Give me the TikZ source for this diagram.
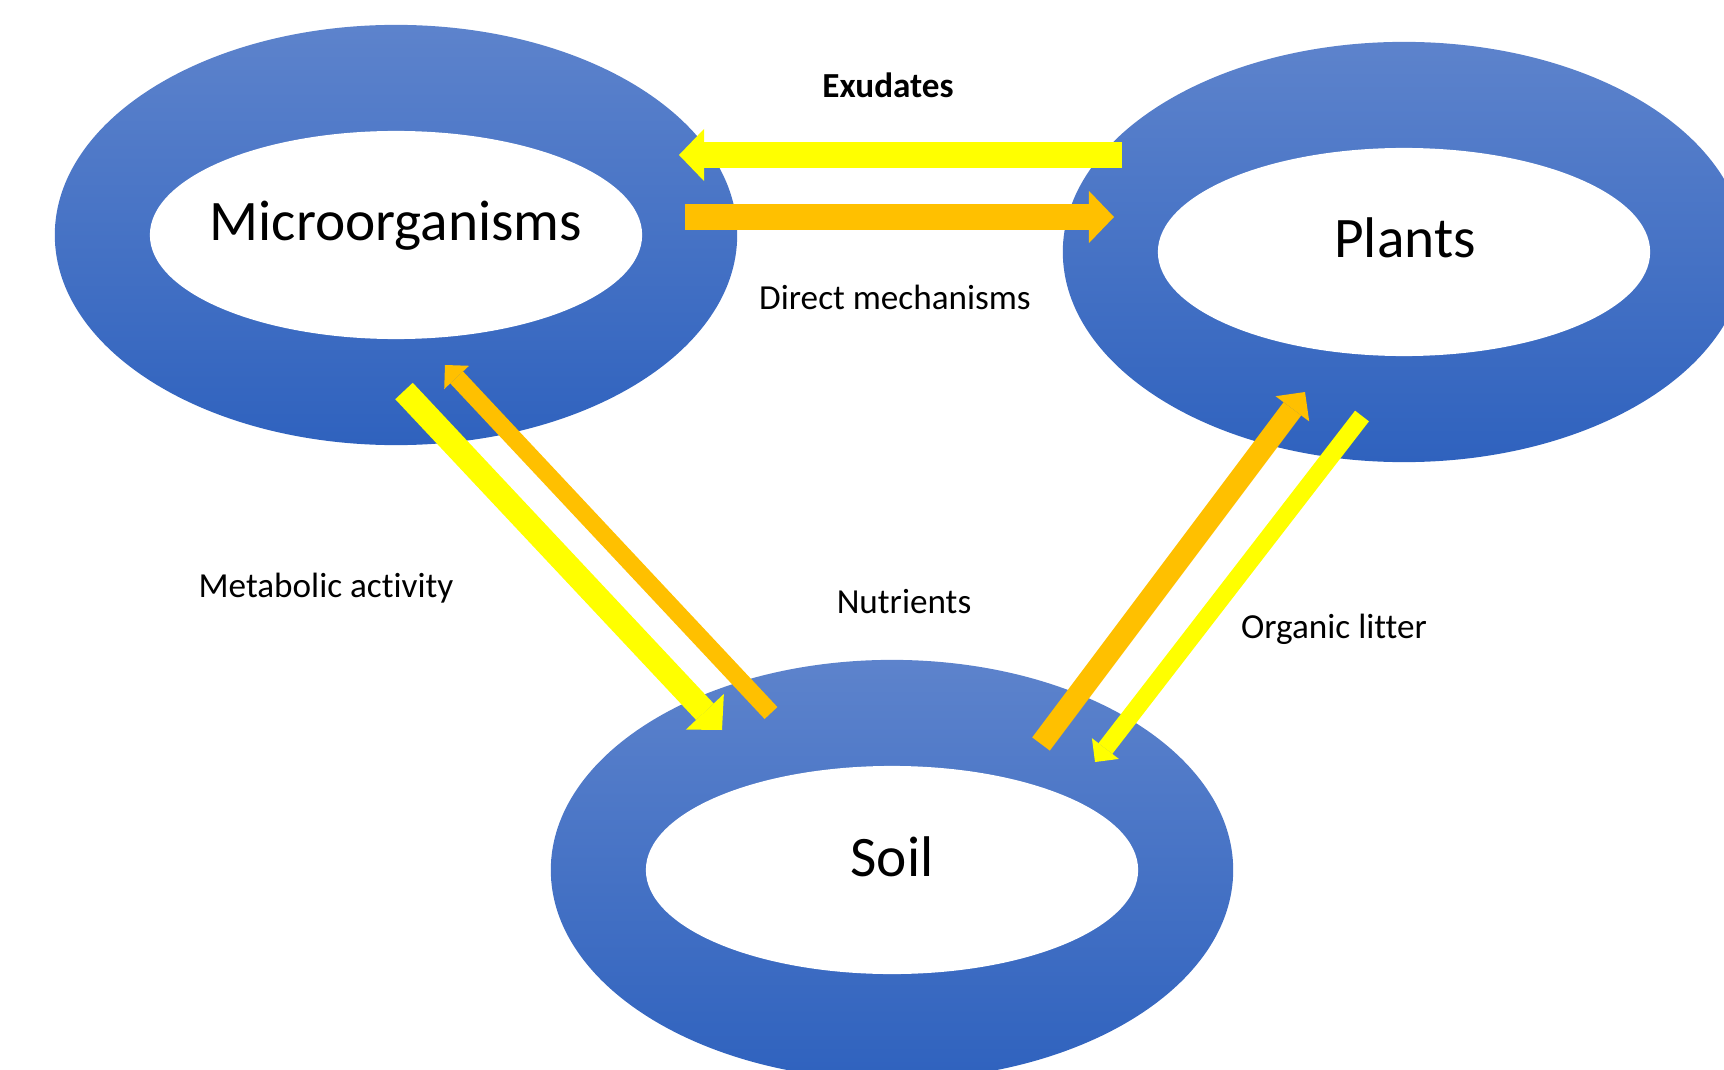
\documentclass[tikz,border=0pt]{standalone}
\usepackage{fontspec}
\setmainfont{Carlito}[Ligatures=CommonOff]
\usetikzlibrary{shapes.geometric,arrows.meta}
\definecolor{ringtop}{RGB}{93,131,204}
\definecolor{ringbot}{RGB}{47,98,190}
\definecolor{gold}{RGB}{255,192,0}
\definecolor{lemon}{RGB}{255,255,0}
\tikzstyle{ring} = [ellipse, inner sep=0pt, minimum width=6.82cm,
    minimum height=4.2cm, top color=ringtop, bottom color=ringbot]
\tikzstyle{hole} = [ellipse, fill=white, inner sep=0pt,
    minimum width=4.92cm, minimum height=2.08cm]
\tikzstyle{bigtext} = [font=\fontsize{16.3}{19}\selectfont, inner sep=0pt, anchor=base]
\tikzstyle{tag} = [font=\fontsize{10}{12}\selectfont, inner sep=0pt, anchor=base]
\tikzstyle{wideflow} = [line width=0.26cm,
    -{Triangle[width=0.52cm, length=0.25cm, line width=0pt]}]
\tikzstyle{midflow} = [line width=0.22cm,
    -{Triangle[width=0.42cm, length=0.21cm, line width=0pt]}]
\tikzstyle{slimflow} = [line width=0.175cm,
    -{Triangle[width=0.34cm, length=0.17cm, line width=0pt]}]

\begin{document}
\begin{tikzpicture}[x=0.01cm, y=-0.01cm]
 \useasboundingbox (0,0) rectangle (1724,1070);
 \node[ring] (micro) at (396,235) {};
 \node[ring] (plants) at (1404,252) {};
 \node[ring] (soil) at (892,870) {};
 \node[hole] (microhole) at (micro) {};
 \node[hole] (plantshole) at (plants) {};
 \node[hole] (soilhole) at (soil) {};
 \node[bigtext] (microname) at (396,241) {Microorganisms};
 \node[bigtext] (plantsname) at (1405,258) {Plants};
 \node[bigtext] (soilname) at (892,876) {Soil};

 % arrow ends
 \coordinate (exu-a) at (1122,155);
 \coordinate (exu-b) at (679,155);
 \coordinate (dir-a) at (685,217);
 \coordinate (dir-b) at (1114,217);
 \coordinate (met-a) at (404,391);
 \coordinate (met-b) at (722,730);
 \coordinate (nut-a) at (771,713);
 \coordinate (nut-b) at (445,365);
 \coordinate (up-a) at (1041,744);
 \coordinate (up-b) at (1305,392);
 \coordinate (lit-a) at (1362,416);
 \coordinate (lit-b) at (1095,762);

\draw[wideflow, draw=lemon] (exu-a) -- (exu-b);
\draw[wideflow, draw=gold] (dir-a) -- (dir-b);
\draw[wideflow, draw=lemon, line width=0.24cm] (met-a) -- (met-b);
\draw[slimflow, draw=gold] (nut-a) -- (nut-b);
\draw[midflow, draw=gold] (up-a) -- (up-b);
\draw[slimflow, draw=lemon] (lit-a) -- (lit-b);

 \node[tag, font=\fontsize{10}{12}\selectfont\bfseries] (exu) at (888,98) {Exudates};
 \node[tag] (dir) at (895,310) {Direct mechanisms};
 \node[tag] (met) at (326,597) {Metabolic activity};
 \node[tag] (nut) at (904,613) {Nutrients};
 \node[tag] (lit) at (1334,638) {Organic litter};
\end{tikzpicture}
\end{document}
